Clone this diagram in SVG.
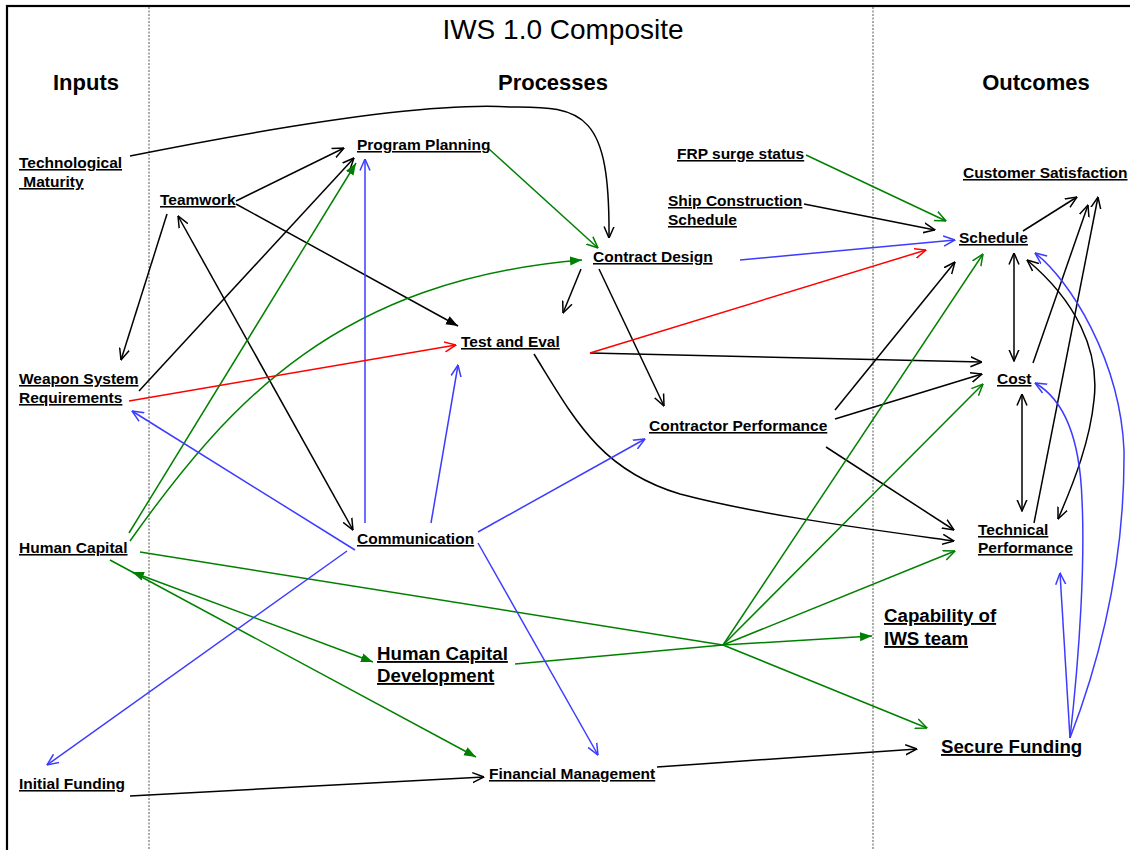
<svg xmlns="http://www.w3.org/2000/svg" width="1130" height="850" viewBox="0 0 1130 850">
<style>
.lbl{font-family:"Liberation Sans",Arial,sans-serif;font-weight:bold;font-size:15.5px;text-decoration:underline;text-decoration-thickness:1.7px;fill:#000}
.big{font-size:18.7px}
.hdr{font-family:"Liberation Sans",Arial,sans-serif;font-weight:bold;font-size:22px;text-anchor:middle;fill:#000}
.ttl{font-family:"Liberation Sans",Arial,sans-serif;font-size:28px;text-anchor:middle;fill:#000}
.k{stroke:#000;stroke-width:1.5;fill:none}
.g{stroke:#008000;stroke-width:1.5;fill:none}
.b{stroke:#3c3cff;stroke-width:1.5;fill:none}
.r{stroke:#ff0000;stroke-width:1.5;fill:none}
.sep{stroke:#555;stroke-width:1;stroke-dasharray:2 1.5}
</style>
<defs>
<marker id="ok" viewBox="0 0 12 12" refX="11.5" refY="6" markerWidth="12" markerHeight="12" markerUnits="userSpaceOnUse" orient="auto-start-reverse"><path d="M0,1 L11.5,6 L0,11" fill="none" stroke="#000" stroke-width="1.5"/></marker>
<marker id="og" viewBox="0 0 12 12" refX="11.5" refY="6" markerWidth="12" markerHeight="12" markerUnits="userSpaceOnUse" orient="auto-start-reverse"><path d="M0,1 L11.5,6 L0,11" fill="none" stroke="#008000" stroke-width="1.5"/></marker>
<marker id="ob" viewBox="0 0 12 12" refX="11.5" refY="6" markerWidth="12" markerHeight="12" markerUnits="userSpaceOnUse" orient="auto-start-reverse"><path d="M0,1 L11.5,6 L0,11" fill="none" stroke="#3c3cff" stroke-width="1.5"/></marker>
<marker id="or" viewBox="0 0 12 12" refX="11.5" refY="6" markerWidth="12" markerHeight="12" markerUnits="userSpaceOnUse" orient="auto-start-reverse"><path d="M0,1 L11.5,6 L0,11" fill="none" stroke="#ff0000" stroke-width="1.5"/></marker>
<marker id="fk" viewBox="0 0 12 12" refX="12" refY="6" markerWidth="12" markerHeight="12" markerUnits="userSpaceOnUse" orient="auto-start-reverse"><path d="M0,1.5 L12,6 L0,10.5 Z" fill="#000"/></marker>
<marker id="fg" viewBox="0 0 12 12" refX="12" refY="6" markerWidth="12" markerHeight="12" markerUnits="userSpaceOnUse" orient="auto-start-reverse"><path d="M0,1.5 L12,6 L0,10.5 Z" fill="#008000"/></marker>
</defs>
<rect x="0" y="0" width="1130" height="850" fill="#fff"/>
<rect x="7" y="6" width="1140" height="900" fill="none" stroke="#000" stroke-width="2.2"/>
<line class="sep" x1="149" y1="7" x2="149" y2="850"/>
<line class="sep" x1="873" y1="7" x2="873" y2="850"/>
<text class="ttl" x="563" y="39">IWS 1.0 Composite</text>
<text class="hdr" x="86" y="90">Inputs</text>
<text class="hdr" x="553" y="90">Processes</text>
<text class="hdr" x="1036" y="90">Outcomes</text>

<g id="connectors">
<path class="k" d="M130,156 C280,126 430,102 510,107 C585,106 610,114 609,238" marker-end="url(#ok)"/>
<line class="k" x1="236" y1="201" x2="344" y2="148" marker-end="url(#ok)"/>
<line class="k" x1="139" y1="391" x2="354" y2="158" marker-end="url(#ok)"/>
<line class="k" x1="167" y1="214" x2="121" y2="360" marker-end="url(#ok)"/>
<line class="k" x1="178" y1="216" x2="353" y2="530" marker-start="url(#ok)" marker-end="url(#ok)"/>
<line class="k" x1="236" y1="204" x2="458" y2="326" marker-end="url(#fk)"/>
<line class="k" x1="581" y1="269" x2="563" y2="313" marker-end="url(#ok)"/>
<line class="k" x1="599" y1="269" x2="664" y2="406" marker-end="url(#ok)"/>
<line class="k" x1="590" y1="353" x2="982" y2="362" marker-end="url(#ok)"/>
<path class="k" d="M534,354 C575,420 600,470 680,494 C760,515 860,528 954,541" marker-end="url(#ok)"/>
<line class="k" x1="835" y1="410" x2="955" y2="262" marker-end="url(#ok)"/>
<line class="k" x1="835" y1="419" x2="982" y2="374" marker-end="url(#ok)"/>
<line class="k" x1="826" y1="447" x2="954" y2="530" marker-end="url(#ok)"/>
<line class="k" x1="804" y1="204" x2="935" y2="230" marker-end="url(#ok)"/>
<line class="k" x1="1023" y1="231" x2="1077" y2="197" marker-end="url(#ok)"/>
<line class="k" x1="1033" y1="363" x2="1088" y2="205" marker-end="url(#ok)"/>
<line class="k" x1="1034" y1="523" x2="1098" y2="197" marker-end="url(#ok)"/>
<line class="k" x1="1014" y1="253" x2="1014" y2="361" marker-start="url(#ok)" marker-end="url(#ok)"/>
<line class="k" x1="1022" y1="394" x2="1022" y2="511" marker-start="url(#ok)" marker-end="url(#ok)"/>
<path class="k" d="M1027,260 C1075,300 1100,350 1094,400 C1090,440 1075,480 1058,519" marker-start="url(#ok)" marker-end="url(#ok)"/>
<line class="k" x1="130" y1="796" x2="484" y2="777" marker-end="url(#ok)"/>
<line class="k" x1="657" y1="767" x2="917" y2="749" marker-end="url(#ok)"/>

<line class="g" x1="489" y1="149" x2="598" y2="248" marker-end="url(#og)"/>
<line class="g" x1="806" y1="155" x2="946" y2="221" marker-end="url(#og)"/>
<line class="g" x1="129" y1="533" x2="356" y2="163" marker-end="url(#fg)"/>
<path class="g" d="M130,541 C230,400 340,280 582,260" marker-end="url(#fg)"/>
<line class="g" x1="132" y1="572" x2="373" y2="662" marker-start="url(#fg)" marker-end="url(#fg)"/>
<line class="g" x1="110" y1="560" x2="476" y2="757" marker-end="url(#fg)"/>
<line class="g" x1="140" y1="552" x2="723" y2="645"/>
<line class="g" x1="515" y1="664" x2="723" y2="645"/>
<line class="g" x1="723" y1="645" x2="983" y2="254" marker-end="url(#og)"/>
<line class="g" x1="723" y1="645" x2="983" y2="384" marker-end="url(#og)"/>
<line class="g" x1="723" y1="645" x2="955" y2="551" marker-end="url(#og)"/>
<line class="g" x1="723" y1="645" x2="872" y2="636" marker-end="url(#fg)"/>
<line class="g" x1="723" y1="645" x2="927" y2="728" marker-end="url(#og)"/>

<line class="b" x1="365" y1="523" x2="365" y2="159" stroke-width="2" marker-end="url(#ob)"/>
<line class="b" x1="431" y1="523" x2="458" y2="365" marker-end="url(#ob)"/>
<line class="b" x1="478" y1="532" x2="645" y2="439" marker-end="url(#ob)"/>
<line class="b" x1="478" y1="543" x2="598" y2="755" marker-end="url(#ob)"/>
<line class="b" x1="355" y1="550" x2="132" y2="411" marker-end="url(#ob)"/>
<line class="b" x1="347" y1="551" x2="47" y2="765" marker-end="url(#ob)"/>
<line class="b" x1="740" y1="260" x2="955" y2="240" marker-end="url(#ob)"/>
<path class="b" d="M1070,738 C1080,650 1085,560 1082,500 C1080,440 1065,400 1035,383" marker-end="url(#ob)"/>
<line class="b" x1="1070" y1="738" x2="1060" y2="573" marker-end="url(#ob)"/>
<path class="b" d="M1070,738 C1100,660 1125,560 1124,450 C1120,360 1070,280 1035,253" marker-end="url(#ob)"/>

<line class="r" x1="129" y1="401" x2="456" y2="345" marker-end="url(#or)"/>
<line class="r" x1="590" y1="353" x2="926" y2="250" marker-end="url(#or)"/>
</g>

<g id="technological-maturity"><text class="lbl" x="19" y="168">Technological</text><text class="lbl" x="19" y="187">&#160;Maturity</text></g>
<g id="teamwork"><text class="lbl" x="160" y="205">Teamwork</text></g>
<g id="weapon-system-requirements"><text class="lbl" x="19" y="384">Weapon System</text><text class="lbl" x="19" y="403">Requirements</text></g>
<g id="human-capital"><text class="lbl" x="19" y="553">Human Capital</text></g>
<g id="initial-funding"><text class="lbl" x="19" y="789">Initial Funding</text></g>
<g id="program-planning"><text class="lbl" x="357" y="150">Program Planning</text></g>
<g id="contract-design"><text class="lbl" x="593" y="262">Contract Design</text></g>
<g id="test-and-eval"><text class="lbl" x="461" y="347">Test and Eval</text></g>
<g id="contractor-performance"><text class="lbl" x="649" y="431">Contractor Performance</text></g>
<g id="communication"><text class="lbl" x="357" y="544">Communication</text></g>
<g id="human-capital-development"><text class="lbl big" x="377" y="660">Human Capital</text><text class="lbl big" x="377" y="682">Development</text></g>
<g id="financial-management"><text class="lbl" x="489" y="779">Financial Management</text></g>
<g id="frp-surge-status"><text class="lbl" x="677" y="159">FRP surge status</text></g>
<g id="ship-construction-schedule"><text class="lbl" x="668" y="206">Ship Construction</text><text class="lbl" x="668" y="225">Schedule</text></g>
<g id="customer-satisfaction"><text class="lbl" x="963" y="178">Customer Satisfaction</text></g>
<g id="schedule"><text class="lbl" x="959" y="243">Schedule</text></g>
<g id="cost"><text class="lbl" x="997" y="384">Cost</text></g>
<g id="technical-performance"><text class="lbl" x="978" y="535">Technical</text><text class="lbl" x="978" y="553">Performance</text></g>
<g id="capability-of-iws-team"><text class="lbl big" x="884" y="622">Capability of</text><text class="lbl big" x="884" y="645">IWS team</text></g>
<g id="secure-funding"><text class="lbl big" x="941" y="753">Secure Funding</text></g>
</svg>
